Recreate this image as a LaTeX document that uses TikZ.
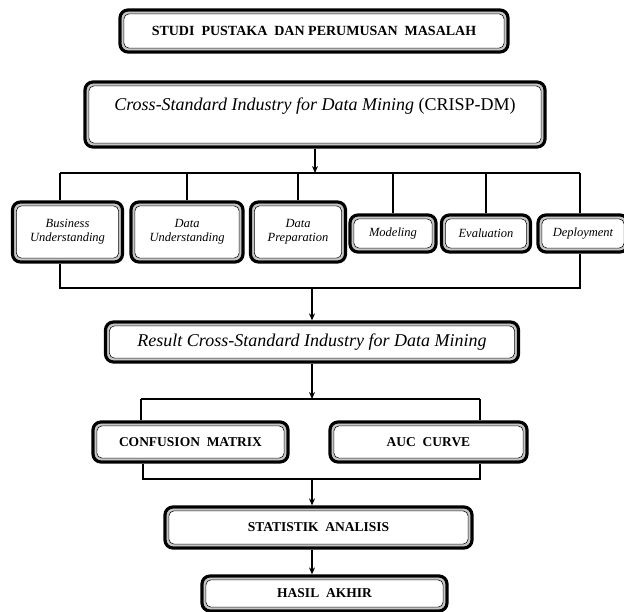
\documentclass[tikz,border=0pt]{standalone}
\usepackage{fontspec}
\setmainfont{Liberation Serif}
\usetikzlibrary{arrows.meta}
\tikzset{
  box/.style={draw=black, line width=3.2pt, rounded corners=8pt, fill=white, inner sep=0pt, align=center,
    path picture={
      \draw[gray!45, line width=2pt, rounded corners=6pt]
        ([shift={(2.6pt,-2.6pt)}]path picture bounding box.north west) rectangle
        ([shift={(-2.6pt,2.6pt)}]path picture bounding box.south east);
      \draw[black, line width=0.6pt, rounded corners=5pt]
        ([shift={(3.9pt,-3.9pt)}]path picture bounding box.north west) rectangle
        ([shift={(-3.9pt,3.9pt)}]path picture bounding box.south east);
    }},
  conn/.style={line width=1.8pt},
  arr/.style={line width=1.6pt, -{Stealth[length=7pt,width=6pt]}},
  phase/.style={box, font=\fontsize{12.5}{14}\selectfont\itshape},
  caps/.style={box, font=\fontsize{13.5}{15}\selectfont\bfseries},
}
\begin{document}
\begin{tikzpicture}[x=1pt,y=-1pt]
\useasboundingbox (0,0) rectangle (624,612);
% top boxes
\node[caps, minimum width=388, minimum height=42, font=\fontsize{14}{16}\selectfont\bfseries] (studi) at (314,31) {STUDI\ \ PUSTAKA\ \ DAN PERUMUSAN\ \ MASALAH};
\node[box, minimum width=460, minimum height=65, text height=19.5pt, text depth=26.5pt,
      font=\fontsize{18}{20}\selectfont] (crisp) at (315,114.5)
      {\textit{Cross-Standard Industry for Data Mining} (CRISP-DM)};
% phases
\node[phase, minimum width=110, minimum height=60] (bu) at (67.5,232) {Business\\Understanding};
\node[phase, minimum width=112, minimum height=60] (du) at (187,232) {Data\\Understanding};
\node[phase, minimum width=95,  minimum height=60] (dpr) at (298,232) {Data\\Preparation};
\node[phase, minimum width=86,  minimum height=37] (mo) at (393,233.5) {Modeling};
\node[phase, minimum width=89,  minimum height=37] (ev) at (486,233.5) {Evaluation};
\node[phase, minimum width=90,  minimum height=37] (de) at (583,233.5) {Deployment};
% bars
\coordinate (t1) at (60,173);
\coordinate (t6) at (580,173);
\coordinate (u1) at (60,288);
\coordinate (u6) at (580,288);
\coordinate (ax) at (312,0);
\draw[conn] (t1) -- (t6);
\draw[arr] (crisp.south) -- (crisp.south |- t1);
\draw[conn] (t1) -- (bu.north -| t1);
\draw[conn] (du.north |- t1) -- (du.north);
\draw[conn] (dpr.north |- t1) -- (dpr.north);
\draw[conn] (mo.north |- t1) -- (mo.north);
\draw[conn] (ev.north |- t1) -- (ev.north);
\draw[conn] (t6) -- (de.north -| t6);
\draw[conn] (bu.south -| u1) -- (u1) -- (u6) -- (de.south -| u6);
% result
\node[box, minimum width=413, minimum height=40, font=\fontsize{18}{20}\selectfont\itshape] (res) at (312,342) {Result Cross-Standard Industry for Data Mining};
\draw[arr] (res.north |- u1) -- (res.north);
\coordinate (v1) at (141,399);
\coordinate (v2) at (480,399);
\draw[arr] (res.south) -- (res.south |- v1);
\draw[conn] (v1) -- (v2);
\node[caps, minimum width=195, minimum height=40] (cm) at (190.5,442) {CONFUSION\ \ MATRIX};
\node[caps, minimum width=197, minimum height=40] (auc) at (428.5,442) {AUC\ \ CURVE};
\draw[conn] (v1) -- (cm.north -| v1);
\draw[conn] (v2) -- (auc.north -| v2);
\coordinate (w1) at (143,479);
\coordinate (w2) at (480,479);
\draw[conn] (cm.south -| w1) -- (w1) -- (w2) -- (auc.south -| w2);
\node[caps, minimum width=307, minimum height=41] (stat) at (318.5,527.5) {STATISTIK\ \ ANALISIS};
\draw[arr] (w1 -| ax) -- (stat.north -| ax);
\node[caps, minimum width=245, minimum height=35] (hasil) at (324.5,593.5) {HASIL\ \ AKHIR};
\draw[arr] (stat.south -| ax) -- (hasil.north -| ax);
\end{tikzpicture}
\end{document}
